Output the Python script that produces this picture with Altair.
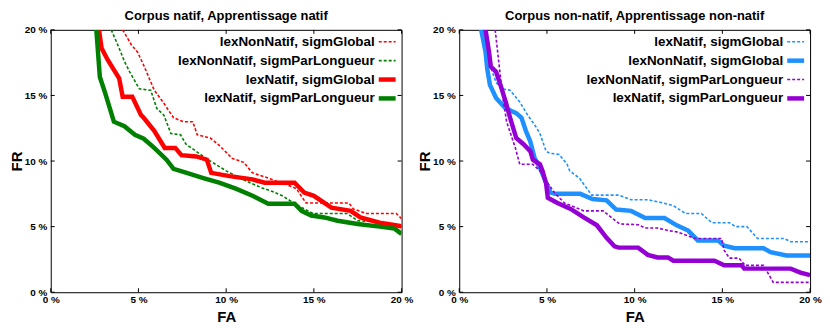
import altair as alt
import pandas as pd

FONT = "Liberation Sans"

# ---------------- data (FA %, FR %) ----------------
TICK_VALUES = [0, 5, 10, 15, 20]

TITLE_LEFT = "Corpus natif, Apprentissage natif"
TITLE_RIGHT = "Corpus non-natif, Apprentissage non-natif"

# Left panel
red_dash_x = [4.1, 4.6, 4.95, 5.3, 5.9, 6.45, 7.0, 7.55, 8.1, 8.35, 9.1, 9.6, 10.35, 11.0, 11.5, 12.4, 12.8, 13.35, 14.0, 14.55, 17.0, 17.25, 18.0, 19.7, 20.0]
red_dash_y = [20, 18.85, 18.3, 17.3, 15.4, 14.4, 13.3, 13.0, 13.0, 12.0, 11.75, 11.2, 10.2, 9.9, 9.1, 8.7, 8.5, 8.25, 7.9, 6.8, 6.8, 6.35, 6.0, 6.0, 5.6]

green_dash_x = [3.45, 3.9, 4.2, 4.5, 5.05, 5.7, 6.05, 6.45, 6.85, 7.4, 7.7, 8.85, 10.0, 11.1, 12.05, 12.6, 13.2, 14.1, 14.95, 16.9, 17.5, 19.3, 20.0]
green_dash_y = [20, 18.6, 17.6, 16.8, 15.5, 15.4, 14.0, 13.5, 12.1, 12.0, 11.3, 10.2, 9.25, 8.5, 7.95, 7.7, 7.35, 6.6, 6.0, 6.0, 5.45, 5.3, 5.05]

red_solid_x = [2.75, 2.9, 3.25, 3.9, 4.1, 4.65, 5.15, 5.3, 5.9, 6.5, 7.1, 7.45, 8.3, 8.9, 9.15, 10.2, 11.5, 12.2, 13.9, 14.45, 15.0, 16.0, 17.1, 17.65, 18.75, 19.9, 20.0]
red_solid_y = [20, 18.6, 17.7, 16.3, 14.9, 14.9, 13.5, 13.3, 12.3, 11.0, 11.0, 10.45, 10.35, 10.1, 9.1, 8.85, 8.6, 8.35, 8.35, 7.6, 7.35, 6.45, 6.2, 5.7, 5.3, 5.05, 5.0]

green_solid_x = [2.6, 2.8, 3.1, 3.6, 4.2, 4.8, 5.3, 5.9, 6.6, 7.0, 7.75, 8.7, 9.6, 10.55, 11.5, 12.4, 13.9, 14.3, 14.85, 15.6, 16.35, 17.5, 18.75, 19.6, 20.0]
green_solid_y = [20, 16.4, 15.2, 13.0, 12.65, 12.0, 11.7, 11.0, 10.1, 9.4, 9.1, 8.7, 8.35, 7.9, 7.35, 6.75, 6.75, 6.2, 5.85, 5.7, 5.45, 5.2, 5.0, 4.85, 4.45]

# Right panel
blue_dash_x = [1.3, 1.7, 2.1, 2.4, 2.9, 3.45, 3.9, 4.35, 4.6, 4.95, 5.15, 5.7, 6.15, 6.3, 6.85, 7.55, 9.1, 9.8, 10.75, 11.65, 12.2, 12.9, 13.8, 14.4, 15.4, 15.75, 16.4, 17.0, 18.5, 18.9, 20.0]
blue_dash_y = [20, 17.5, 16.0, 15.5, 15.4, 14.5, 13.5, 12.65, 12.1, 10.75, 10.6, 10.5, 9.75, 9.25, 8.7, 7.4, 7.4, 7.05, 7.05, 6.8, 6.6, 6.0, 6.0, 5.3, 5.3, 5.0, 5.0, 4.1, 4.1, 3.85, 3.85]

blue_solid_x = [1.25, 1.5, 1.6, 1.75, 2.1, 2.65, 3.25, 3.55, 3.8, 4.05, 4.3, 4.6, 4.9, 5.2, 5.45, 6.9, 7.6, 8.4, 8.95, 9.8, 10.6, 11.7, 12.4, 13.05, 13.6, 14.75, 15.1, 15.7, 17.35, 17.75, 18.65, 20.0]
blue_solid_y = [20, 18.3, 17.0, 15.8, 14.8, 14.0, 13.65, 13.3, 12.3, 11.5, 10.2, 9.5, 8.5, 7.6, 7.5, 7.5, 7.1, 7.0, 6.3, 6.2, 5.65, 5.65, 5.1, 4.7, 3.95, 3.95, 3.55, 3.35, 3.35, 3.05, 2.8, 2.8]

purple_dash_x = [2.05, 2.3, 2.45, 2.7, 2.95, 3.2, 3.45, 4.2, 4.6, 4.95, 5.45, 6.0, 7.1, 8.2, 9.15, 10.2, 10.6, 11.3, 11.9, 12.4, 13.45, 14.95, 15.1, 15.4, 15.95, 16.3, 17.35, 17.9, 20.0]
purple_dash_y = [20, 17.0, 15.2, 13.0, 12.0, 11.0, 9.75, 9.75, 9.25, 8.5, 7.55, 6.8, 6.2, 6.2, 5.2, 5.15, 4.9, 4.9, 4.7, 4.6, 4.1, 4.1, 3.2, 2.6, 2.6, 2.05, 2.05, 0.75, 0.75]

purple_solid_x = [1.5, 1.7, 1.8, 2.1, 2.35, 2.65, 2.9, 3.25, 3.65, 4.05, 4.2, 4.6, 4.75, 4.95, 5.05, 5.6, 6.35, 7.1, 7.85, 8.4, 8.85, 9.1, 10.2, 10.75, 11.3, 11.9, 12.2, 14.55, 15.1, 16.1, 16.25, 18.9, 19.45, 20.0]
purple_solid_y = [20, 18.3, 17.2, 16.8, 15.8, 14.5, 13.3, 11.75, 11.3, 10.75, 10.1, 9.75, 9.25, 8.3, 7.2, 6.8, 6.35, 5.7, 5.1, 4.15, 3.5, 3.4, 3.4, 2.85, 2.65, 2.65, 2.4, 2.4, 2.05, 2.05, 1.8, 1.8, 1.5, 1.3]

# series: (label, color, dashed, xs, ys) in drawing / legend order
LEFT_SERIES = [
    ("lexNonNatif, sigmGlobal", "#ff0000", True, red_dash_x, red_dash_y),
    ("lexNonNatif, sigmParLongueur", "#008000", True, green_dash_x, green_dash_y),
    ("lexNatif, sigmGlobal", "#ff0000", False, red_solid_x, red_solid_y),
    ("lexNatif, sigmParLongueur", "#008000", False, green_solid_x, green_solid_y),
]
RIGHT_SERIES = [
    ("lexNatif, sigmGlobal", "#1e90ff", True, blue_dash_x, blue_dash_y),
    ("lexNonNatif, sigmGlobal", "#1e90ff", False, blue_solid_x, blue_solid_y),
    ("lexNonNatif, sigmParLongueur", "#9400d3", True, purple_dash_x, purple_dash_y),
    ("lexNatif, sigmParLongueur", "#9400d3", False, purple_solid_x, purple_solid_y),
]

W, H = 353, 264
DASH = [3, 2]
THIN, THICK = 1.6, 4.5

LABEL_EXPR = "datum.value + ' %'"

def x_enc():
    return alt.X("FA:Q", scale=alt.Scale(domain=[0, 20], nice=False, zero=False),
                 axis=alt.Axis(title="FA", values=TICK_VALUES, labelExpr=LABEL_EXPR,
                               grid=False, ticks=False, domain=False, labelFlush=False,
                               labelFont=FONT, labelFontSize=10, labelFontWeight="bold",
                               labelColor="black", labelPadding=2,
                               titleFont=FONT, titleFontSize=15, titleFontWeight="bold",
                               titleColor="black", titlePadding=5))

def y_enc():
    return alt.Y("FR:Q", scale=alt.Scale(domain=[0, 20], nice=False, zero=False),
                 axis=alt.Axis(title="FR", values=TICK_VALUES, labelExpr=LABEL_EXPR,
                               grid=False, ticks=False, domain=False, labelFlush=False,
                               labelFont=FONT, labelFontSize=10, labelFontWeight="bold",
                               labelColor="black", labelPadding=4,
                               titleFont=FONT, titleFontSize=15, titleFontWeight="bold",
                               titleColor="black", titlePadding=0))


def panel(series, title):
    layers = []
    # inward tick marks (gnuplot style, mirrored)
    tx = pd.DataFrame({"FA": TICK_VALUES})
    ty = pd.DataFrame({"FR": TICK_VALUES})
    layers.append(alt.Chart(tx).mark_rule(color="black", strokeWidth=1).encode(
        x=x_enc(), y=alt.value(H), y2=alt.value(H - 4)))
    layers.append(alt.Chart(tx).mark_rule(color="black", strokeWidth=1).encode(
        x=x_enc(), y=alt.value(0), y2=alt.value(4)))
    layers.append(alt.Chart(ty).mark_rule(color="black", strokeWidth=1).encode(
        y=y_enc(), x=alt.value(0), x2=alt.value(4)))
    layers.append(alt.Chart(ty).mark_rule(color="black", strokeWidth=1).encode(
        y=y_enc(), x=alt.value(W), x2=alt.value(W - 4)))

    for label, color, dashed, xs, ys in series:
        df = pd.DataFrame({"FA": xs, "FR": ys, "i": list(range(len(xs)))})
        if dashed:
            mk = alt.Chart(df).mark_line(color=color, strokeWidth=THIN, strokeDash=DASH, clip=True)
        else:
            mk = alt.Chart(df).mark_line(color=color, strokeWidth=THICK, clip=True)
        layers.append(mk.encode(x=x_enc(), y=y_enc(), order="i:Q"))

    # manual legend (label then sample, gnuplot style)
    for k, (label, color, dashed, xs, ys) in enumerate(series):
        ypix = 12 + 19 * k
        ldf = pd.DataFrame({"label": [label]})
        layers.append(alt.Chart(ldf).mark_text(
            align="right", baseline="middle", font=FONT, fontSize=13.5,
            fontWeight="bold", color="black").encode(
            text="label:N", x=alt.value(W - 27), y=alt.value(ypix)))
        if dashed:
            rm = alt.Chart(ldf).mark_rule(color=color, strokeWidth=THIN, strokeDash=DASH)
        else:
            rm = alt.Chart(ldf).mark_rule(color=color, strokeWidth=THICK)
        layers.append(rm.encode(x=alt.value(W - 23), x2=alt.value(W - 6), y=alt.value(ypix)))

    # panel title as a text mark above the frame
    tdf = pd.DataFrame({"t": [title]})
    layers.append(alt.Chart(tdf).mark_text(
        align="center", baseline="middle", font=FONT, fontSize=13,
        fontWeight="bold", color="black").encode(
        text="t:N", x=alt.value(W / 2), y=alt.value(-14)))

    return alt.layer(*layers).properties(width=W, height=H)


chart = alt.hconcat(panel(LEFT_SERIES, TITLE_LEFT), panel(RIGHT_SERIES, TITLE_RIGHT),
                    spacing=58, bounds="flush").properties(
    padding={"left": 0, "top": 0, "right": 0, "bottom": 0},
    background="white",
).configure_view(stroke="black", strokeWidth=1)

chart.save("out.html", embed_options={"renderer": "svg", "actions": False})
